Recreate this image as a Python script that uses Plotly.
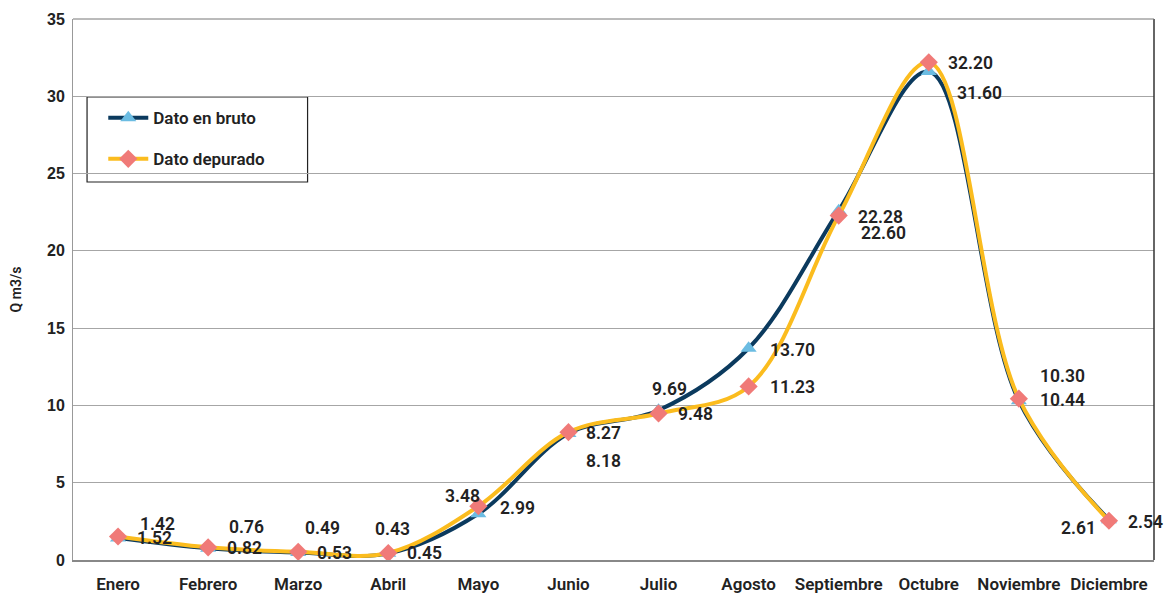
import plotly.graph_objects as go

# Monthly discharge, raw vs. cleaned series
months = ["Enero", "Febrero", "Marzo", "Abril", "Mayo", "Junio", "Julio",
          "Agosto", "Septiembre", "Octubre", "Noviembre", "Diciembre"]
bruto = [1.42, 0.76, 0.49, 0.43, 2.99, 8.18, 9.69, 13.70, 22.60, 31.60, 10.30, 2.61]
depurado = [1.52, 0.82, 0.53, 0.45, 3.48, 8.27, 9.48, 11.23, 22.28, 32.20, 10.44, 2.54]
y_ticks = [0, 5, 10, 15, 20, 25, 30, 35]

# Label offsets in pixels (x shift, y shift) per point
bruto_off = [(20, 14), (19, 21), (5, 24), (-15, 24), (20, 6), (16, -27), (-9, 21),
             (19, -2), (20, -22), (26, -21), (19, 25), (-11, -8)]
dep_off = [(17, -1), (17, -1), (17, -1), (17, 0), (-35, 10), (16, -1), (17, -1),
           (19, -1), (17, -1), (17, -1), (19, -1), (17, -1)]

NAVY = "#0b3a5e"
GOLD = "#fbbc1e"
TRI = "#6bbce2"
DIA = "#f07a78"
LABEL_FONT = dict(family="Roboto", size=17.5, color="#222222", weight=600)

fig = go.Figure()
fig.add_trace(go.Scatter(
    x=months, y=bruto, name="Dato en bruto", legendgroup="a",
    mode="lines+markers",
    line=dict(color=NAVY, width=4, shape="spline", smoothing=1.0),
    marker=dict(symbol="triangle-up", size=14, color=TRI),
))
fig.add_trace(go.Scatter(
    x=months, y=depurado, name="Dato depurado", legendgroup="b",
    mode="lines+markers",
    line=dict(color=GOLD, width=4, shape="spline", smoothing=1.0),
    marker=dict(symbol="diamond", size=14, color=DIA),
))

annotations = []
for series, offs in ((bruto, bruto_off), (depurado, dep_off)):
    for m, v, (dx, dy) in zip(months, series, offs):
        annotations.append(dict(
            x=m, y=v, xref="x", yref="y", text=f"{v:.2f}", showarrow=False,
            xanchor="right" if dx < 0 and m == "Diciembre" else "left",
            yanchor="middle", xshift=dx, yshift=dy, font=LABEL_FONT,
        ))

fig.update_layout(
    width=1164, height=593,
    margin=dict(l=73, r=10, t=19, b=33),
    paper_bgcolor="white", plot_bgcolor="white",
    annotations=annotations,
    showlegend=True,
    legend=dict(
        x=0.028, y=0.850, xanchor="left", yanchor="top",
        bgcolor="rgba(255,255,255,0)", borderwidth=0,
        tracegroupgap=16, itemwidth=40,
        font=dict(family="Roboto", size=17, color="#222222", weight=600),
    ),
    shapes=[dict(type="rect", xref="paper", yref="paper",
                 x0=0.013, x1=0.217, y0=(560 - 182) / 541, y1=(560 - 97) / 541,
                 line=dict(color="#222222", width=1.2), fillcolor="rgba(0,0,0,0)",
                 layer="below")],
)
fig.update_xaxes(
    type="category", range=[-0.5, len(months) - 0.5], showgrid=False,
    showline=True, linecolor="#888888", linewidth=2, mirror=False,
    ticks="", ticklabelstandoff=8, automargin=False,
    tickfont=dict(family="Roboto", size=17, color="#222222", weight=600),
)
fig.update_yaxes(
    range=[0, 35], tickvals=y_ticks, showgrid=True, gridcolor="#a6a6a6", gridwidth=1,
    showline=True, linecolor="#999999", linewidth=1, zeroline=False, ticks="",
    ticklabelstandoff=4, automargin=False,
    tickfont=dict(family="Liberation Sans", size=16, color="#222222", weight="bold"),
    title=dict(text="Q m3/s", standoff=22,
               font=dict(family="Roboto", size=14, color="#222222", weight=600)),
)
# right and top frame of the plot area
fig.add_shape(type="line", xref="paper", yref="paper", x0=1, x1=1, y0=0, y1=1,
              line=dict(color="#333333", width=1.5))
fig.add_shape(type="line", xref="paper", yref="paper", x0=0, x1=1, y0=1, y1=1,
              line=dict(color="#777777", width=1))

fig.write_html("out.html")
